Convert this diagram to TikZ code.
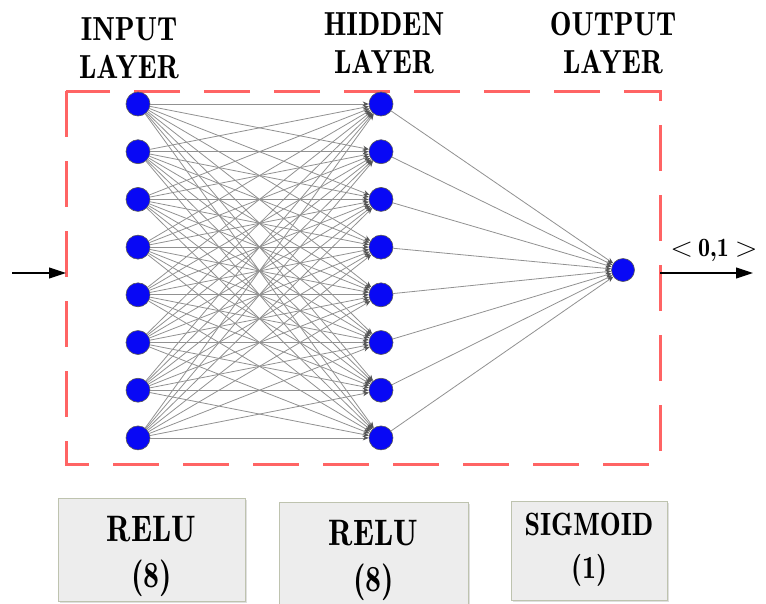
\documentclass[tikz,border=0pt]{standalone}
\usetikzlibrary{arrows.meta,shadows}
\newcommand\lmdemi{\normalfont\fontseries{b}\selectfont}
\newcommand\vst[1]{\scalebox{1}[1.15]{#1}}
\definecolor{nodeblue}{RGB}{8,8,245}
\definecolor{dashred}{RGB}{255,100,100}
\definecolor{conngray}{RGB}{145,145,145}
\definecolor{tipgray}{RGB}{85,85,85}
\definecolor{boxfill}{RGB}{237,237,237}
\definecolor{boxedge}{RGB}{190,195,175}
\begin{document}
\begin{tikzpicture}[x=1pt,y=-1pt,
  neuron/.style={circle,fill=nodeblue,draw=black!65,line width=0.6pt,minimum size=24pt,inner sep=0pt},
  conn/.style={draw=conngray,line width=0.8pt,-{Stealth[length=6pt,width=5pt,color=tipgray]}},
  title/.style={font=\lmdemi\fontsize{29}{38}\selectfont,align=center,anchor=north,inner sep=0pt},
  actbox/.style={rectangle,fill=boxfill,draw=boxedge,line width=1pt,inner sep=0pt,
    drop shadow={shadow xshift=1.5pt,shadow yshift=-1.5pt,opacity=0.25}},
  acttext/.style={font=\lmdemi\fontsize{32}{46}\selectfont,align=center,anchor=north,inner sep=0pt},
  bigarrow/.style={draw=black,line width=1.1pt,-{Triangle[length=17pt,width=11pt]}}
]
\useasboundingbox (0,0) rectangle (766,603);

% titles
\node[title] (tin) at (129,17) {\vst{INPUT}\\\vst{LAYER}};
\node[title] (thid) at (384,12) {\vst{HIDDEN}\\\vst{LAYER}};
\node[title] (tout) at (613,12) {\vst{OUTPUT}\\\vst{LAYER}};

% dashed frame
\draw[dashred,line width=3pt,dash pattern=on 46pt off 24pt] (66,91) -- (66,464) -- (660,464) -- (660,91) -- cycle;

% neurons
\foreach \i in {1,...,8}{
  \pgfmathsetmacro\yy{104+47.7*(\i-1)}
  \node[neuron] (i\i) at (138,\yy) {};
  \node[neuron] (h\i) at (381,\yy) {};
}
\node[neuron,minimum size=23pt] (o) at (623,270) {};

% connections
\foreach \i in {1,...,8}{
  \foreach \j in {1,...,8}{
    \draw[conn] (i\i) -- (h\j);
  }
}
\foreach \j in {1,...,8}{
  \draw[conn] (h\j) -- (o);
}

% input / output arrows
\coordinate (inL) at (12,273);
\coordinate (inR) at (66,273);
\draw[bigarrow] (inL) -- (inR);
\coordinate (outL) at (660,273);
\coordinate (outR) at (753,273);
\draw[bigarrow] (outL) -- (outR);
\node[font=\lmdemi\fontsize{24}{30}\selectfont,anchor=base,inner sep=0pt] (range) at (714,256)
  {\scalebox{1.2}[1.1]{$<$}\hspace{5pt}\scalebox{1}[1.1]{0,1}\hspace{6pt}\scalebox{1.2}[1.1]{$>$}};

% activation boxes
\node[actbox,minimum width=187pt,minimum height=103pt] (b1) at (151.5,549.5) {};
\node[acttext] (t1) at (151.5,516) {\vst{RELU}\\\vst{(8)}};
\node[actbox,minimum width=189pt,minimum height=103pt] (b2) at (373.5,553.5) {};
\node[acttext] (t2) at (373.5,520) {\vst{RELU}\\\vst{(8)}};
\node[actbox,minimum width=156pt,minimum height=99pt] (b3) at (589,550.5) {};
\node[acttext,font=\lmdemi\fontsize{28}{43}\selectfont] (t3) at (589,513) {\vst{SIGMOID}\\\vst{(1)}};
\end{tikzpicture}
\end{document}
